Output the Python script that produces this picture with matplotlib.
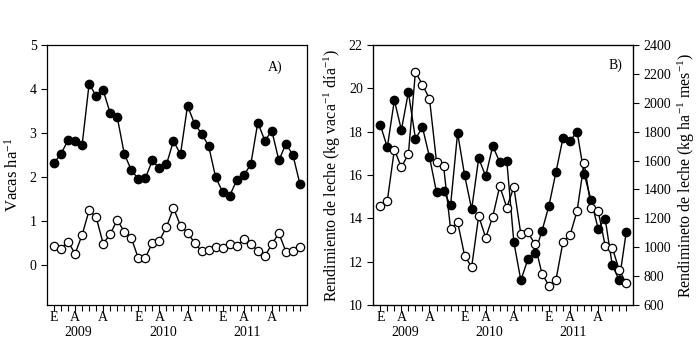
import numpy as np
import matplotlib
matplotlib.use('Agg')
import matplotlib.pyplot as plt

plt.rcParams['font.family'] = ['Liberation Serif', 'DejaVu Serif']
plt.rcParams['mathtext.fontset'] = 'custom'
plt.rcParams['mathtext.rm'] = 'Liberation Serif'
plt.rcParams['mathtext.it'] = 'Liberation Serif:italic'

# months Jan 2009 .. Dec 2011
meses = np.arange(1, 37)
tick_pos = [1, 4, 8, 13, 16, 20, 25, 28, 32]
tick_lab = ['E', 'A', 'A', 'E', 'A', 'A', 'E', 'A', 'A']
years = ['2009', '2010', '2011']
year_pos = [4.5, 16.5, 28.5]

# panel A (vacas ha-1)
vacas_llenos = [2.32, 2.53, 2.84, 2.83, 2.73, 4.12, 3.84, 3.97, 3.45, 3.36, 2.53, 2.16,
                1.96, 1.98, 2.38, 2.20, 2.29, 2.82, 2.52, 3.62, 3.21, 2.99, 2.71, 2.00,
                1.66, 1.58, 1.93, 2.04, 2.29, 3.24, 2.83, 3.05, 2.38, 2.76, 2.50, 1.84]
vacas_vacios = [0.43, 0.38, 0.54, 0.26, 0.69, 1.25, 1.09, 0.49, 0.71, 1.03, 0.76, 0.62,
                0.16, 0.17, 0.51, 0.56, 0.87, 1.30, 0.90, 0.74, 0.51, 0.32, 0.34, 0.42,
                0.39, 0.49, 0.44, 0.59, 0.49, 0.33, 0.21, 0.48, 0.73, 0.31, 0.33, 0.42]

# panel B
leche_vaca = [18.31, 17.28, 19.45, 18.08, 19.82, 17.67, 18.20, 16.83, 15.20, 15.26, 14.60, 17.94,
              15.98, 14.42, 16.77, 15.94, 17.34, 16.59, 16.65, 12.91, 11.14, 12.11, 12.40, 13.41,
              14.58, 16.14, 17.71, 17.57, 18.00, 16.05, 14.83, 13.52, 13.98, 11.85, 11.14, 13.38]
leche_ha = [1288, 1322, 1675, 1553, 1646, 2214, 2124, 2027, 1592, 1565, 1126, 1175,
            941, 863, 1216, 1066, 1212, 1422, 1274, 1417, 1090, 1103, 1022, 817,
            734, 775, 1038, 1083, 1251, 1583, 1274, 1253, 1009, 997, 842, 750]

fig = plt.figure(figsize=(6.99, 3.51), dpi=100)
axA = fig.add_axes([0.0672, 0.131, 0.372, 0.741])
axB = fig.add_axes([0.534, 0.131, 0.372, 0.741])

filled = dict(color='black', marker='o', markersize=6, markerfacecolor='black',
              markeredgecolor='black', linewidth=1)
hollow = dict(color='black', marker='o', markersize=6, markerfacecolor='white',
              markeredgecolor='black', linewidth=1, markeredgewidth=0.9)

def style_x(ax):
    ax.set_xlim(0, 37)
    ax.set_xticks(meses, minor=True)
    ax.set_xticks(tick_pos)
    ax.set_xticklabels(tick_lab)
    ax.tick_params(axis='x', which='both', direction='out', length=4, width=0.8,
                   labelsize=10, pad=0)
    for y, p in zip(years, year_pos):
        ax.text(p, -0.105, y, transform=ax.get_xaxis_transform(),
                ha='center', va='center', fontsize=10)
    for s in ax.spines.values():
        s.set_linewidth(0.9)

axA.plot(meses, vacas_llenos, **filled)
axA.plot(meses, vacas_vacios, **hollow)
axA.set_ylim(-0.9, 5)
axA.set_yticks([0, 1, 2, 3, 4, 5])
axA.tick_params(axis='y', direction='out', length=4, width=0.8, labelsize=10)
axA.set_ylabel('Vacas ha$^{-1}$', fontsize=12, labelpad=6)
axA.text(0.877, 0.915, 'A)', transform=axA.transAxes, ha='center', va='center', fontsize=10)
style_x(axA)

axB.plot(meses, leche_vaca, zorder=3, **filled)
axB.set_ylim(10, 22)
axB.set_yticks([10, 12, 14, 16, 18, 20, 22])
axB.tick_params(axis='y', direction='out', length=4, width=0.8, labelsize=10)
axB.set_ylabel('Rendimiento de leche (kg vaca$^{-1}$ día$^{-1}$)', fontsize=11.5, labelpad=4)
axB.text(0.93, 0.923, 'B)', transform=axB.transAxes, ha='center', va='center', fontsize=10)
style_x(axB)

axB2 = axB.twinx()
axB2.plot(meses, leche_ha, zorder=2, **hollow)
axB2.set_ylim(600, 2400)
axB2.set_yticks(np.arange(600, 2401, 200))
axB2.tick_params(axis='y', direction='out', length=4, width=0.8, labelsize=10)
axB2.set_ylabel('Rendimineto de leche (kg ha$^{-1}$ mes$^{-1}$)', fontsize=11.5, labelpad=3)
axB2.set_xlim(0, 37)

fig.savefig('out.png', dpi=100)
